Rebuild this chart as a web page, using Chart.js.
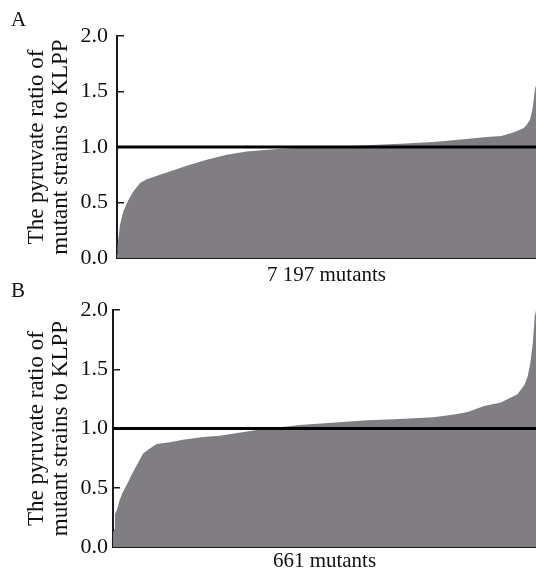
<!DOCTYPE html>
<html>
<head>
<meta charset="utf-8">
<script src="https://cdn.jsdelivr.net/npm/chart.js@4"></script>
<style>
    html, body { margin: 0; padding: 0; background: #fff; overflow: hidden; }
    #page { position: relative; width: 536px; height: 569px; }
    canvas { position: absolute; left: 0; }
    #chartA { top: 0; }
    #chartB { top: 285px; }
    .panel-label { position: absolute; left: 11px; font: 21px "Liberation Serif", serif; line-height: 21px; color: #111; }
</style>
</head>
<body>
<div id="page">
    <canvas id="chartA" width="536" height="290"></canvas>
    <canvas id="chartB" width="536" height="300"></canvas>
    <div class="panel-label" style="top: 9px;">A</div>
    <div class="panel-label" style="top: 280px;">B</div>
</div>
<script>
/**
 * Pyruvate ratio of mutant strains to KLPP - sorted distributions
 */

const yTicks = [0, 0.5, 1.0, 1.5, 2.0];
const yTitle = ['The pyruvate ratio of', 'mutant strains to KLPP'];
const referenceRatio = 1.0;

// Panel A: 7 197 mutants, sorted by ratio
const mutantsA = 7197;
const xLabelA = '7 197 mutants';
const rankA = [0, 8, 22, 52, 108, 194, 280, 395, 510, 854, 1197, 1541, 1885, 2229, 2700, 3200,
    3716, 4003, 4862, 5434, 5772, 6351, 6600, 6808, 6980, 7039, 7095, 7130, 7152, 7181, 7197];
const ratioA = [0.03, 0.10, 0.17, 0.30, 0.42, 0.52, 0.60, 0.675, 0.71, 0.77, 0.83, 0.885, 0.93, 0.96, 0.98, 0.995,
    1.005, 1.01, 1.03, 1.045, 1.06, 1.09, 1.10, 1.13, 1.17, 1.20, 1.25, 1.32, 1.40, 1.53, 1.55];

// Panel B: 661 mutants, sorted by ratio
const mutantsB = 661;
const xLabelB = '661 mutants';
const rankB = [0, 2, 3, 6, 10, 15, 23, 29, 36, 47, 57, 68, 89, 109, 141, 167, 227, 292,
    397, 439, 501, 533, 554, 580, 606, 632, 643, 648, 652, 656, 659, 661];
const ratioB = [0.12, 0.15, 0.28, 0.31, 0.39, 0.46, 0.54, 0.61, 0.68, 0.79, 0.83, 0.87, 0.885, 0.905, 0.93, 0.94, 0.99, 1.03,
    1.07, 1.08, 1.095, 1.12, 1.14, 1.19, 1.22, 1.29, 1.37, 1.44, 1.55, 1.72, 1.95, 2.0];

document.addEventListener('DOMContentLoaded', function() {
    initPanel('chartA', rankA, ratioA, mutantsA, xLabelA, {
        axisWidth: 117, top: 36, xHeight: 32, titleBottom: 4, tickPad: 16
    });
    initPanel('chartB', rankB, ratioB, mutantsB, xLabelB, {
        axisWidth: 113, top: 21, xHeight: 38, titleBottom: 13, tickPad: 12
    });
});

function initPanel(canvasId, ranks, ratios, total, xLabel, box) {
    const ctx = document.getElementById(canvasId);
    if (!ctx) return;

    const points = ranks.map((r, i) => ({ x: r, y: ratios[i] }));

    new Chart(ctx, {
        type: 'line',
        data: {
            datasets: [{
                label: 'KLPP',
                data: [{ x: 0, y: referenceRatio }, { x: total, y: referenceRatio }],
                borderColor: '#000000',
                borderWidth: 3,
                pointRadius: 0,
                fill: false,
                order: 1
            }, {
                label: 'Mutants',
                data: points,
                borderColor: 'rgba(0, 0, 0, 0)',
                borderWidth: 0,
                backgroundColor: '#807e83',
                fill: 'origin',
                tension: 0,
                pointRadius: 0,
                order: 2
            }]
        },
        options: {
            responsive: false,
            animation: false,
            events: [],
            layout: {
                padding: { top: box.top, right: 0, bottom: 0, left: 0 }
            },
            plugins: {
                legend: { display: false },
                tooltip: { enabled: false }
            },
            scales: {
                x: {
                    type: 'linear',
                    min: 0,
                    max: total,
                    ticks: { display: false },
                    grid: { display: false },
                    border: { display: true, color: '#1a1a1a', width: 2 },
                    title: {
                        display: true,
                        text: xLabel,
                        color: '#111111',
                        font: { family: 'Liberation Serif', size: 21, lineHeight: 1 },
                        padding: { top: 0, bottom: box.titleBottom }
                    },
                    afterFit: function(scale) {
                        scale.height = box.xHeight;
                    }
                },
                y: {
                    min: 0,
                    max: 2,
                    afterBuildTicks: function(scale) {
                        scale.ticks = yTicks.map(v => ({ value: v }));
                    },
                    ticks: {
                        color: '#111111',
                        padding: box.tickPad,
                        font: { family: 'Liberation Serif', size: 22 },
                        callback: v => v.toFixed(1)
                    },
                    grid: {
                        drawOnChartArea: false,
                        drawTicks: true,
                        tickLength: -7,
                        color: '#1a1a1a',
                        lineWidth: 1.5
                    },
                    border: { display: true, color: '#1a1a1a', width: 2 },
                    title: {
                        display: true,
                        text: yTitle,
                        color: '#111111',
                        font: { family: 'Liberation Serif', size: 23, lineHeight: 1.05 },
                        padding: { top: 25, bottom: 0 }
                    },
                    afterFit: function(scale) {
                        scale.width = box.axisWidth;
                    }
                }
            }
        }
    });
}
</script>
</body>
</html>
